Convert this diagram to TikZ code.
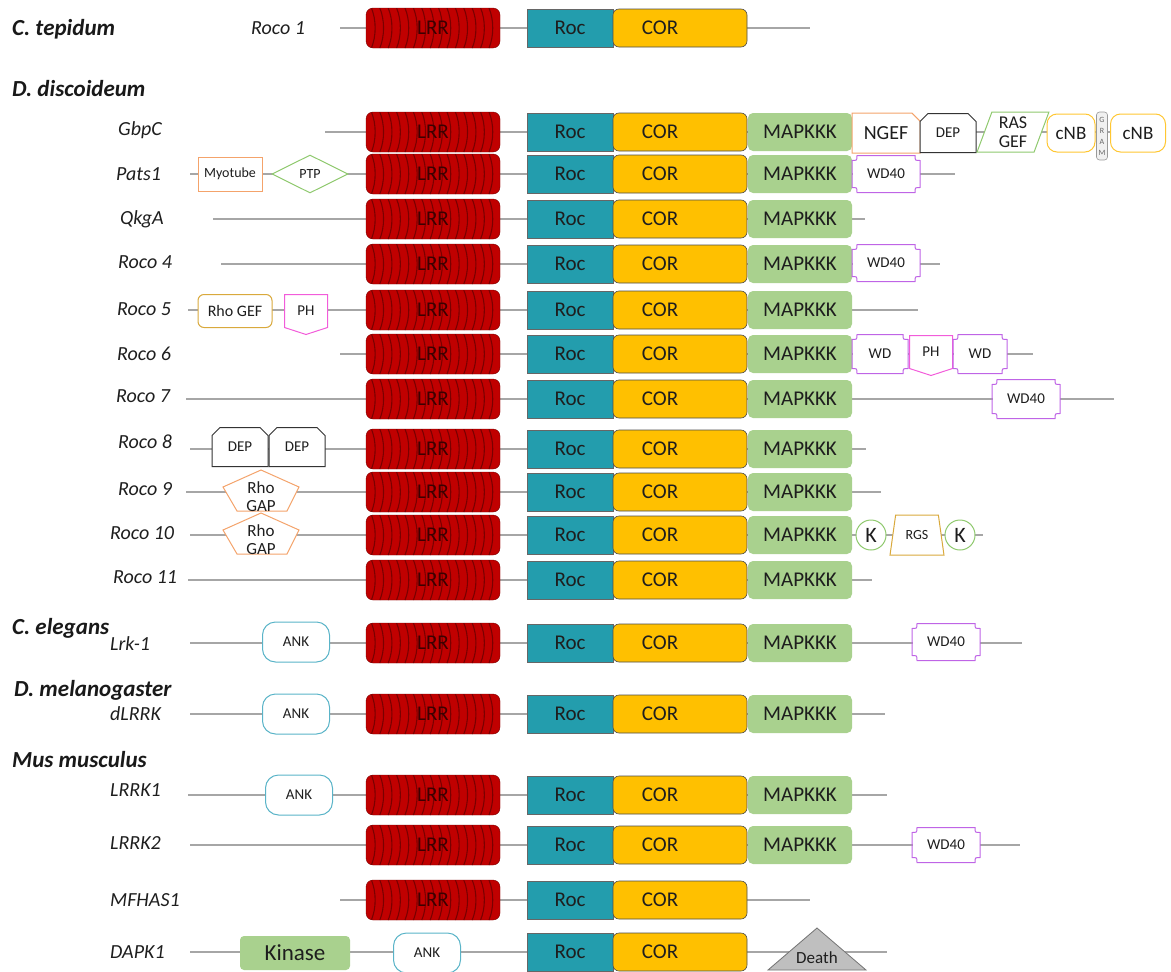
\documentclass[tikz,border=0pt]{standalone}
\usepackage{fontspec}
\setmainfont{Carlito}
\usetikzlibrary{shapes.geometric,shapes.misc}

\definecolor{linegray}{HTML}{A6A6A6}
\definecolor{lrrred}{HTML}{C00000}
\definecolor{lrrdark}{HTML}{7A0000}
\definecolor{lrrtext}{HTML}{3C0000}
\definecolor{roccol}{HTML}{239DAD}
\definecolor{corcol}{HTML}{FFC000}
\definecolor{mapcol}{HTML}{A9D18E}
\definecolor{txtdark}{HTML}{1E1E1E}
\definecolor{orangeln}{HTML}{F4A36B}
\definecolor{greenln}{HTML}{8FC96E}
\definecolor{goldln}{HTML}{D9A93C}
\definecolor{yellowln}{HTML}{FFC732}
\definecolor{violetln}{HTML}{BF64E6}
\definecolor{magentaln}{HTML}{F25CDA}
\definecolor{tealln}{HTML}{5AB4C8}
\definecolor{deathgray}{HTML}{BFBFBF}

% WD40 outline with hollow corners
\newcommand\plaque[1]{\draw[wdline] ([xshift=5pt]#1.north west) -- ([xshift=-5pt]#1.north east)
  .. controls ([shift={(-5pt,-5pt)}]#1.north east) .. ([yshift=-5pt]#1.north east)
  -- ([yshift=5pt]#1.south east) .. controls ([shift={(-5pt,5pt)}]#1.south east) .. ([xshift=-5pt]#1.south east)
  -- ([xshift=5pt]#1.south west) .. controls ([shift={(5pt,5pt)}]#1.south west) .. ([yshift=5pt]#1.south west)
  -- ([yshift=-5pt]#1.north west) .. controls ([shift={(5pt,-5pt)}]#1.north west) .. ([xshift=5pt]#1.north west) -- cycle;}
% PH outline, pointed at the bottom
\newcommand\homeplate[1]{\draw[phline] (#1.south west) -- (#1.north west) -- (#1.north east) -- (#1.south east) -- ([yshift=-7pt]#1.south) -- cycle;}
% Rho GAP pentagon
\newcommand\rhogap[2]{\coordinate (#1) at (261,#2);
  \filldraw[gapline] ([shift={(0,-22)}]#1) -- ([shift={(38,-5)}]#1) -- ([shift={(26,19)}]#1) -- ([shift={(-24,19)}]#1) -- ([shift={(-38,-5)}]#1) -- cycle;
  \node[gaptext] (#1-t) at ([yshift=-5pt]#1) {Rho\\GAP};}

\begin{document}
\begin{tikzpicture}[x=1pt,y=-1pt,
  backbone/.style={draw=linegray, line width=1.3pt},
  box/.style={inner sep=0pt, minimum height=38, text=txtdark, font=\fontsize{21}{21}\selectfont},
  lrr/.style={box, minimum width=134, minimum height=40, fill=lrrred, draw=lrrdark, rounded corners=7, text=lrrtext,
    path picture={\foreach \k in {1,...,15} \draw[lrrdark, line width=1.1pt]
      ([xshift=\k*8.4-3]path picture bounding box.north west) .. controls +(5,12) and +(5,-12) .. ([xshift=\k*8.4-3]path picture bounding box.south west);}},
  roc/.style={box, minimum width=86, fill=roccol, draw=black!60, line width=0.6pt},
  cor/.style={box, minimum width=134, fill=corcol, draw=black!70, rounded corners=6, line width=0.6pt},
  mapk/.style={box, minimum width=104, fill=mapcol, rounded corners=5},
  small/.style={inner sep=0pt, fill=white, text=txtdark, font=\fontsize{15}{15}\selectfont, line width=1pt},
  wd/.style={small, minimum width=67, minimum height=36},
  ph/.style={small, minimum width=42, minimum height=32},
  dep/.style={small, draw=black!80, chamfered rectangle, chamfered rectangle corners={north west,north east}, chamfered rectangle xsep=6pt, minimum width=56, minimum height=39},
  myo/.style={small, draw=orangeln, minimum width=64, minimum height=34, font=\fontsize{14}{14}\selectfont},
  ptp/.style={small, draw=greenln, diamond, aspect=2, minimum width=76, minimum height=38, font=\fontsize{14}{14}\selectfont},
  rhogef/.style={small, draw=goldln, rounded corners=6, minimum width=74, minimum height=33, font=\fontsize{16}{16}\selectfont},
  ank/.style={small, draw=tealln, rounded corners=13, minimum width=67, minimum height=40},
  kdom/.style={small, draw=greenln, circle, minimum size=30, font=\fontsize{22}{22}\selectfont},
  rgs/.style={small, draw=goldln, trapezium, trapezium left angle=72, trapezium right angle=72, trapezium stretches=true, minimum width=54, minimum height=40, font=\fontsize{14}{14}\selectfont},
  ngef/.style={small, draw=orangeln, chamfered rectangle, chamfered rectangle corners=north east, chamfered rectangle xsep=5pt, minimum width=68, minimum height=40, font=\fontsize{20}{20}\selectfont},
  rasgef/.style={small, draw=greenln, trapezium, trapezium left angle=72, trapezium right angle=108, trapezium stretches=true, minimum width=72, minimum height=40, align=center, font=\fontsize{18}{19}\selectfont},
  cnb/.style={small, draw=yellowln, rounded corners=10, minimum width=48, minimum height=38, font=\fontsize{19}{19}\selectfont},
  gram/.style={inner sep=0pt, fill=white!94!black, draw=black!40, rounded corners=3, minimum width=11, minimum height=48, align=center, font=\fontsize{8}{11}\selectfont, text=black!60, line width=0.6pt},
  kinase/.style={box, fill=mapcol, rounded corners=4, minimum width=110, minimum height=34, font=\fontsize{23}{23}\selectfont},
  gaptext/.style={inner sep=0pt, align=center, text=txtdark, font=\fontsize{17}{18}\selectfont},
  gapline/.style={draw=orangeln, fill=white, line width=1pt},
  deathst/.style={fill=deathgray, draw=black!55, line width=0.8pt},
  species/.style={anchor=base west, inner sep=0pt, yshift=-7pt, text=black!90, font=\fontsize{23}{23}\selectfont\bfseries\itshape},
  rowlab/.style={anchor=base west, inner sep=0pt, yshift=-6pt, text=txtdark, font=\fontsize{20}{20}\selectfont\itshape},
  wdline/.style={draw=violetln, line width=1pt},
  phline/.style={draw=magentaln, line width=1pt}]

\useasboundingbox (0,0) rectangle (1171,972);

\node[species] (ctep) at (12,28) {C. tepidum};
\node[species] (ddis) at (12,89) {D. discoideum};
\node[species] (cele) at (12,627) {C. elegans};
\node[species] (dmel) at (14,689) {D. melanogaster};
\node[species] (mmus) at (12,760) {Mus musculus};

% LRR - Roc - COR core of every Roco protein
\foreach \nm/\yy/\xs/\xe/\lx/\ly/\lt in {roco1/28/340/810/251/28/Roco 1, gbpc/132/325/1110/118/129/GbpC,
  pats/174/190/955/116/174/Pats1, qkga/219/213/865/120/218/QkgA, rocoiv/264/221/940/118/262/Roco 4,
  rocov/310/188/918/117/309/Roco 5, rocovi/354/340/1033/117/354/Roco 6, rocovii/399/186/1114/116/396/Roco 7,
  rocoviii/449/190/866/118/442/Roco 8, rocoix/492/186/881/118/489/Roco 9, rocox/535/190/983/110/533/Roco 10,
  rocoxi/580/188/872/113/577/Roco 11, lrk/643/190/1022/110/644/Lrk-1, dlrrk/714/190/885/110/714/dLRRK,
  lrrki/795/188/887/110/790/LRRK1, lrrkii/845/190/1020/110/843/LRRK2, mfhas/900/340/810/110/900/MFHAS1}{
  \node[rowlab] (\nm-lab) at (\lx,\ly) {\lt};
  \coordinate (\nm-s) at (\xs,\yy);
  \coordinate (\nm-e) at (\xe,\yy);
  \draw[backbone] (\nm-s) -- (\nm-e);
  \node[lrr] (\nm-lrr) at (433,\yy) {LRR};
  \node[roc] (\nm-roc) at (570,\yy) {Roc};
  \node[cor] (\nm-cor) at (680,\yy) {COR\hspace*{40pt}};
}
\foreach \nm/\yy in {gbpc/132, pats/174, qkga/219, rocoiv/264, rocov/310, rocovi/354, rocovii/399, rocoviii/449,
  rocoix/492, rocox/535, rocoxi/580, lrk/643, dlrrk/714, lrrki/795, lrrkii/845}
  \node[mapk] (\nm-map) at (800,\yy) {MAPKKK};

% GbpC
\node[ngef] (gbpc-ngef) at (886,133) {NGEF};
\node[dep] (gbpc-dep) at (948,133) {DEP};
\node[rasgef] (gbpc-ras) at (1013,132) {RAS\\GEF};
\node[cnb] (gbpc-cnb1) at (1071,133) {cNB};
\node[gram] (gbpc-gram) at (1102,136) {G\\R\\A\\M};
\node[cnb, minimum width=55] (gbpc-cnb2) at (1138,133) {cNB};

% Pats1
\node[myo] (pats-myo) at (230,174) {Myotube};
\node[ptp] (pats-ptp) at (310,174) {PTP};
\node[wd] (pats-wd) at (886,174) {WD40}; \plaque{pats-wd}

\node[wd] (rocoiv-wd) at (886,263) {WD40}; \plaque{rocoiv-wd}

\node[rhogef] (rocov-gef) at (235,311) {Rho GEF};
\node[ph] (rocov-ph) at (306,311) {PH}; \homeplate{rocov-ph}

\node[wd, minimum width=55, minimum height=38] (rocovi-wd1) at (880,354) {WD}; \plaque{rocovi-wd1}
\node[ph] (rocovi-ph) at (931,352) {PH}; \homeplate{rocovi-ph}
\node[wd, minimum width=53, minimum height=38] (rocovi-wd2) at (980,354) {WD}; \plaque{rocovi-wd2}

\node[wd, minimum height=38] (rocovii-wd) at (1026,399) {WD40}; \plaque{rocovii-wd}

\node[dep] (rocoviii-dep1) at (240,447) {DEP};
\node[dep] (rocoviii-dep2) at (297,447) {DEP};

\rhogap{rocoix-gap}{492}
\rhogap{rocox-gap}{535}
\node[kdom] (rocox-k1) at (871,535) {K};
\node[rgs] (rocox-rgs) at (917,535) {RGS};
\node[kdom] (rocox-k2) at (960,535) {K};

\node[ank] (lrk-ank) at (296,642) {ANK};
\node[wd] (lrk-wd) at (946,642) {WD40}; \plaque{lrk-wd}
\node[ank] (dlrrk-ank) at (296,714) {ANK};
\node[ank] (lrrki-ank) at (299,795) {ANK};
\node[wd, minimum height=34] (lrrkii-wd) at (946,845) {WD40}; \plaque{lrrkii-wd}

% DAPK1
\node[rowlab] (dapk-lab) at (110,952) {DAPK1};
\coordinate (dapk-s) at (190,952);
\coordinate (dapk-e) at (887,952);
\draw[backbone] (dapk-s) -- (dapk-e);
\node[kinase] (dapk-kin) at (295,953) {Kinase};
\node[ank] (dapk-ank) at (427,953) {ANK};
\node[roc] (dapk-roc) at (570,952) {Roc};
\node[cor] (dapk-cor) at (680,952) {COR\hspace*{40pt}};
\coordinate (dapk-dth) at (817,952);
\filldraw[deathst] ([shift={(-49,18)}]dapk-dth) -- ([shift={(0,-24)}]dapk-dth) -- ([shift={(49,18)}]dapk-dth) -- cycle;
\node[inner sep=0pt, text=txtdark, font=\fontsize{17}{17}\selectfont] (dapk-death) at ([yshift=-6pt]dapk-dth) {Death};

\end{tikzpicture}
\end{document}
